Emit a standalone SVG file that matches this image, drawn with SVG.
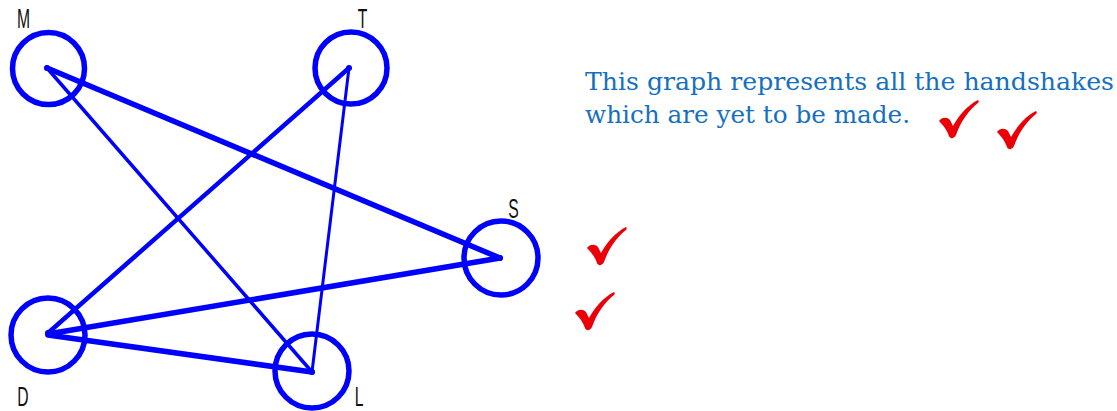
<svg xmlns="http://www.w3.org/2000/svg" width="1117" height="411" viewBox="0 0 1117 411">
<style>
.node{fill:none;stroke:#0000ff;stroke-width:5.5}
.dot{fill:#0000ff}
.edge{stroke:#0000ff;stroke-linecap:round;fill:none}
.lbl{font-family:"Liberation Sans",Arial,sans-serif;font-size:28px;fill:#111;text-anchor:middle}
.note{font-family:"DejaVu Serif",Georgia,serif;font-size:25px;fill:#1570c0}
.chk{fill:#ec0008}
</style>
<defs>
<path id="check" d="M0,21 C3,17 8,17 11,20 L14,26 C20,15 29,5 39,0 C40,1 40,2 39,3 C30,10 22,21 17,35 C15,39 11,39 10,36 C8,30 4,25 0,21 Z"/>
</defs>
<rect width="1117" height="411" fill="#fff"/>
<g id="connectors">
<line class="edge" x1="47" y1="68" x2="500" y2="258" stroke-width="5.5"/>
<line class="edge" x1="47" y1="68" x2="312" y2="372" stroke-width="3.5"/>
<line class="edge" x1="349" y1="68" x2="48" y2="333" stroke-width="4.5"/>
<line class="edge" x1="349" y1="68" x2="312" y2="372" stroke-width="3"/>
<line class="edge" x1="48" y1="334" x2="500" y2="258" stroke-width="5.5"/>
<line class="edge" x1="48" y1="335" x2="312" y2="372" stroke-width="5.5"/>
</g>
<g id="node-M">
<circle class="node" cx="48.5" cy="68.5" r="36"/>
<circle class="dot" cx="47" cy="68" r="3"/>
<text class="lbl" transform="translate(23.5,28) scale(0.56,1)">M</text>
</g>
<g id="node-T">
<circle class="node" cx="351" cy="68" r="36"/>
<circle class="dot" cx="349" cy="68" r="3"/>
<text class="lbl" transform="translate(362.5,28) scale(0.56,1)">T</text>
</g>
<g id="node-S">
<circle class="node" cx="501" cy="258" r="37"/>
<circle class="dot" cx="500" cy="258" r="3"/>
<text class="lbl" transform="translate(513.5,218) scale(0.56,1)">S</text>
</g>
<g id="node-D">
<circle class="node" cx="48" cy="335" r="37"/>
<circle class="dot" cx="48" cy="333" r="3"/>
<text class="lbl" transform="translate(23,406) scale(0.56,1)">D</text>
</g>
<g id="node-L">
<circle class="node" cx="312" cy="371" r="37"/>
<circle class="dot" cx="312" cy="372" r="3"/>
<text class="lbl" transform="translate(359,406) scale(0.56,1)">L</text>
</g>
<g id="note">
<text class="note" x="585" y="90" textLength="529" lengthAdjust="spacingAndGlyphs">This graph represents all the handshakes</text>
<text class="note" x="585" y="123" textLength="325" lengthAdjust="spacingAndGlyphs">which are yet to be made.</text>
</g>
<g id="checks">
<use href="#check" class="chk" x="939" y="100"/>
<use href="#check" class="chk" x="997" y="111"/>
<use href="#check" class="chk" x="587" y="227"/>
<use href="#check" class="chk" x="575" y="292"/>
</g>
</svg>
